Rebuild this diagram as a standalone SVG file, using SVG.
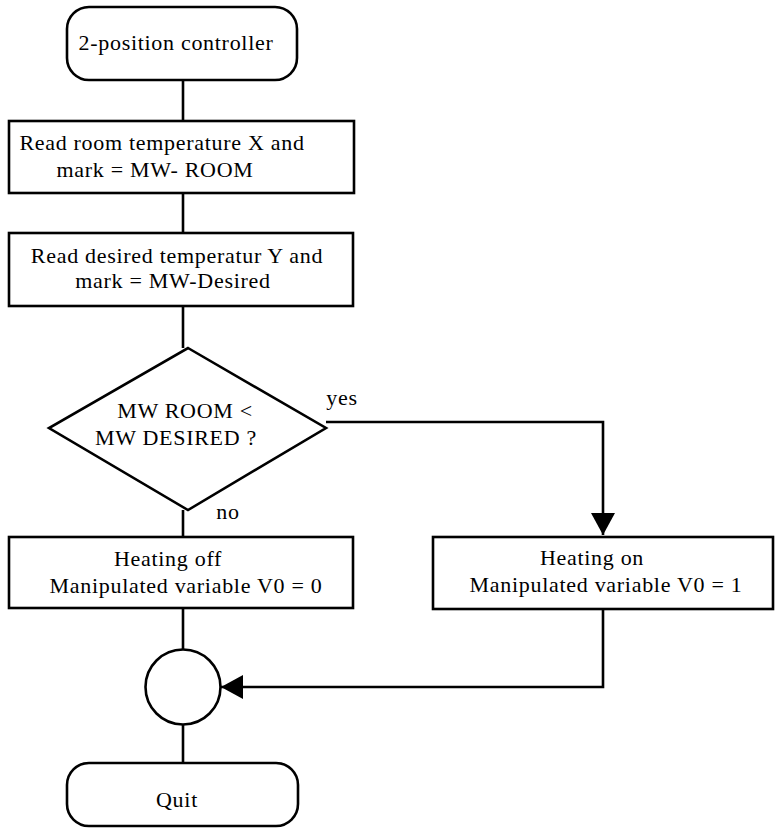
<svg xmlns="http://www.w3.org/2000/svg" width="775" height="834" viewBox="0 0 775 834">
<style>
.s{fill:#fff;stroke:#000;stroke-width:2.6}
.c{fill:none;stroke:#000;stroke-width:2.6}
text{font-family:"Liberation Serif","Times New Roman",serif;font-size:22px;letter-spacing:0.7px;fill:#000;text-anchor:middle}
</style>
<defs>
<marker id="ah" markerUnits="userSpaceOnUse" markerWidth="26" markerHeight="26" refX="22" refY="12" orient="auto">
<path d="M0,0 L22,12 L0,24 Z" fill="#000"/>
</marker>
</defs>
<rect width="775" height="834" fill="#fff"/>
<g id="connectors">
<line class="c" x1="183" y1="80" x2="183" y2="121"/>
<line class="c" x1="183" y1="193" x2="183" y2="233"/>
<line class="c" x1="183" y1="306" x2="183" y2="348"/>
<path class="c" d="M326,422 H603 V535" marker-end="url(#ah)"/>
<line class="c" x1="183" y1="510" x2="183" y2="537"/>
<line class="c" x1="183" y1="608" x2="183" y2="650"/>
<path class="c" d="M603,609 V687 H221" marker-end="url(#ah)"/>
<line class="c" x1="183" y1="725" x2="183" y2="763"/>
<text x="342" y="405">yes</text>
<text x="228" y="519">no</text>
</g>
<g id="start">
<rect class="s" x="67" y="7" width="230" height="73" rx="22"/>
<text x="176" y="50">2-position controller</text>
</g>
<g id="readRoom">
<rect class="s" x="9" y="121" width="345" height="72"/>
<text x="162" y="150">Read room temperature X and</text>
<text x="155" y="177">mark = MW- ROOM</text>
</g>
<g id="readDesired">
<rect class="s" x="9" y="233" width="344" height="73"/>
<text x="177" y="263">Read desired temperatur Y and</text>
<text x="173" y="288">mark = MW-Desired</text>
</g>
<g id="decision">
<polygon class="s" points="188,348 326,428 188,510 49,428"/>
<text x="185" y="418">MW ROOM &lt;</text>
<text x="176" y="445">MW DESIRED ?</text>
</g>
<g id="heatingOff">
<rect class="s" x="9" y="537" width="344" height="71"/>
<text x="168" y="566">Heating off</text>
<text x="186" y="593">Manipulated variable V0 = 0</text>
</g>
<g id="heatingOn">
<rect class="s" x="433" y="537" width="340" height="72"/>
<text x="592" y="565">Heating on</text>
<text x="606" y="592">Manipulated variable V0 = 1</text>
</g>
<g id="join">
<circle class="s" cx="183" cy="687" r="37.5"/>
</g>
<g id="quit">
<rect class="s" x="67" y="763" width="231" height="63" rx="22"/>
<text x="177" y="807">Quit</text>
</g>
</svg>
